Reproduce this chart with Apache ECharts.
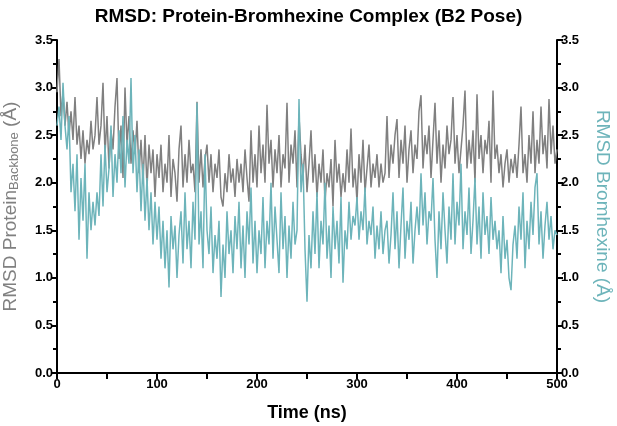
<!DOCTYPE html>
<html>
<head>
<meta charset="utf-8">
<script src="https://cdn.jsdelivr.net/npm/echarts@6/dist/echarts.min.js"></script>
<style>
  html, body { margin: 0; padding: 0; background: #fff; }
  #chart { width: 617px; height: 426px; }
</style>
</head>
<body>
<div id="chart"></div>
<script>
// time step of the sampled trajectory (ns)
const timeStep = 2;

// RMSD of protein backbone (Å), one value every 2 ns from 0 to 500
const proteinRmsd = [
  2.95, 3.3, 2.7, 2.95, 2.6, 2.85, 2.5, 2.75, 2.45, 2.9,
  2.4, 2.6, 2.25, 2.55, 2.2, 2.45, 2.3, 2.65, 2.35, 2.5,
  2.9, 2.4, 2.6, 3.05, 2.3, 2.7, 2.15, 2.55, 2.35, 2.8,
  3.1, 2.25, 2.6, 2.05, 3.0, 2.4, 2.7, 2.2, 2.55, 2.3,
  2.65, 2.1, 2.45, 2.0, 2.5, 1.95, 2.4, 2.1, 2.35, 1.85,
  2.3, 2.05, 2.4, 1.9, 2.2, 2.0, 2.5, 1.85, 2.25, 2.1,
  1.8, 2.35, 2.6, 1.95, 2.3, 2.0, 2.45, 2.1, 2.2, 1.9,
  2.85, 2.0, 2.35, 1.95, 2.25, 2.4, 2.0, 2.3, 1.9, 2.2,
  2.05, 2.35, 1.85, 1.75, 2.1, 1.9, 2.3, 2.0, 2.15, 1.85,
  2.25, 2.0, 2.2, 1.9, 2.35, 2.05, 1.8, 2.55, 2.0, 2.3,
  1.95, 2.6, 2.1, 2.4, 2.0, 2.82, 2.2, 2.45, 1.95, 2.35,
  2.1, 2.5, 1.95, 2.3, 2.15, 2.84, 2.0, 2.4, 2.2, 2.55,
  1.95, 2.7, 2.3, 2.05, 2.4, 1.9, 2.2, 2.55, 2.0, 2.3,
  1.85, 2.2, 2.0, 2.35, 1.8, 2.1, 1.95, 2.25, 1.75, 2.45,
  2.0, 2.2, 1.85, 2.1, 1.9, 2.35, 2.0, 2.57, 1.95, 2.15,
  1.8, 2.3, 2.0, 2.45, 1.9, 2.15, 2.4, 1.95, 2.2, 2.05,
  2.3, 1.95, 2.2, 2.0, 2.1, 2.7, 2.05, 2.4, 2.2, 2.5,
  2.67, 2.05, 2.45, 2.2, 2.6, 2.0, 2.35, 2.55, 2.1, 2.4,
  2.25, 2.75, 2.92, 2.15, 2.5, 2.3, 2.6, 2.05, 2.45, 2.84,
  2.2, 2.55, 2.0, 2.4, 2.15, 2.6, 2.3, 2.45, 2.9, 2.2,
  2.5, 2.1, 2.35, 2.6, 2.97, 2.15, 2.45, 2.2, 2.55, 2.0,
  2.93, 2.25, 2.5, 2.1, 2.45, 2.3, 2.65, 2.0, 2.97, 2.25,
  2.4, 2.1, 2.3, 1.95, 2.2, 2.35, 2.0, 2.25, 2.1, 2.3,
  2.05, 2.4, 2.8, 2.1, 2.3, 2.0, 2.5, 2.2, 2.75, 2.1,
  2.45, 2.2, 2.8, 2.3, 2.5, 2.15, 2.88, 2.3, 2.6, 2.2,
  2.35
];

// RMSD of bromhexine (Å), same time points
const ligandRmsd = [
  2.6, 2.8, 2.45, 3.05, 2.6, 2.35, 2.7, 1.9, 2.2, 1.7,
  2.3, 1.4, 2.05, 1.6, 2.2, 1.2, 1.9, 1.5, 1.8, 1.55,
  1.9, 1.65, 2.3, 1.75, 2.4, 1.9, 2.15, 2.6, 1.85, 2.3,
  2.0, 2.55, 2.1, 2.7, 1.95, 2.45, 2.2, 3.1, 2.1, 2.5,
  1.9, 2.35, 1.7, 2.2, 1.6, 2.05, 1.5, 1.9, 1.35, 1.8,
  1.4, 1.75, 1.2, 1.6, 1.1, 1.5, 0.9, 1.65, 1.3, 1.55,
  1.0, 1.45, 1.7, 1.15, 1.9, 1.3, 1.6, 1.1, 1.8, 1.4,
  2.84, 1.35, 1.7, 1.1, 2.3, 1.5, 1.25, 1.75, 1.05, 1.45,
  1.2, 1.6, 0.8, 1.35, 1.0, 1.7, 1.25, 1.5, 1.05, 1.65,
  1.3, 1.8, 1.1, 1.55, 1.0, 1.7, 1.35, 1.95, 1.15, 1.6,
  1.05, 1.5, 1.25, 1.85, 1.1, 1.6, 1.35, 2.0, 1.2, 1.75,
  1.4, 1.05, 1.9, 1.3, 1.65, 1.0, 1.55, 1.2, 1.8, 1.35,
  1.5, 2.88, 1.9, 2.2, 1.3, 0.75, 1.45, 1.1, 1.7, 1.25,
  1.9, 1.1, 1.6, 1.35, 2.0, 1.2, 1.55, 1.0, 1.75, 1.3,
  1.6, 1.15, 1.85, 0.95, 1.5, 1.3, 1.8, 1.4, 1.65, 1.55,
  1.85, 1.4, 1.7, 1.5, 1.95, 1.35, 1.6, 1.45, 1.75, 1.2,
  1.55, 1.3, 1.7, 1.25, 1.5, 1.6, 1.15, 1.45, 1.9, 1.3,
  1.7, 1.1, 1.55, 1.95, 1.2, 1.6, 1.4, 1.8, 1.15, 1.5,
  1.75, 1.45, 2.1, 1.55, 1.9, 1.35, 1.7, 1.6, 2.05, 1.4,
  1.0, 1.7, 1.3, 1.9, 1.5, 1.15, 1.75, 1.4, 2.1, 1.35,
  1.8, 1.55, 2.2, 1.3, 1.7, 1.45, 1.95, 1.25, 1.6, 2.05,
  1.35, 1.75, 1.2, 1.9, 1.45, 1.65, 1.25, 1.85, 1.4, 1.6,
  1.3, 1.5, 1.05, 1.65, 1.2, 1.4, 1.0, 0.87, 1.35, 1.55,
  1.2, 1.75, 1.4, 1.9, 1.1, 1.6, 1.3, 1.8, 1.45, 1.95,
  2.1, 1.35, 1.7, 1.2, 1.55, 1.8, 1.4, 1.65, 1.3, 1.5,
  1.45
];

const grayColor = '#808080';
const tealColor = '#6db4ba';
const fontFamily = '"Liberation Sans", Arial, sans-serif';

const myChart = echarts.init(document.getElementById('chart'), null, { renderer: 'canvas' });

// pair each value with its time
function toPoints(values) {
  return values.map((v, i) => [i * timeStep, v]);
}

// shared style for both y axes
function yAxisBase(position) {
  return {
    type: 'value',
    position,
    min: 0,
    max: 3.5,
    interval: 0.5,
    axisLine: { show: true, lineStyle: { color: '#000', width: 2 } },
    axisTick: { show: true, length: 6, lineStyle: { color: '#000', width: 2 } },
    minorTick: { show: true, splitNumber: 2, length: 4, lineStyle: { color: '#000', width: 2 } },
    splitLine: { show: false },
    axisLabel: {
      color: '#000',
      fontWeight: 'bold',
      fontSize: 13,
      fontFamily,
      margin: 4,
      formatter: v => v.toFixed(1)
    },
    nameLocation: 'middle',
    nameRotate: position === 'left' ? 90 : -90,
    nameGap: 36
  };
}

const option = {
  backgroundColor: '#fff',
  animation: false,
  title: {
    text: 'RMSD: Protein-Bromhexine Complex (B2 Pose)',
    left: 'center',
    top: 2,
    textStyle: { color: '#000', fontSize: 19, fontWeight: 'bold', fontFamily }
  },
  grid: { left: 57, right: 60, top: 40, bottom: 53, outerBoundsMode: 'none' },
  xAxis: {
    type: 'value',
    min: 0,
    max: 500,
    interval: 100,
    name: 'Time (ns)',
    nameLocation: 'middle',
    nameGap: 31,
    nameTextStyle: { color: '#000', fontSize: 18, fontWeight: 'bold', fontFamily },
    axisLine: { show: true, onZero: false, lineStyle: { color: '#000', width: 2 } },
    axisTick: { show: true, length: 6, lineStyle: { color: '#000', width: 2 } },
    minorTick: { show: true, splitNumber: 2, length: 6, lineStyle: { color: '#000', width: 2 } },
    splitLine: { show: false },
    axisLabel: { color: '#000', fontWeight: 'bold', fontSize: 13, fontFamily, margin: 5 }
  },
  yAxis: [
    Object.assign(yAxisBase('left'), {
      name: 'RMSD Protein{sub|Backbone} (Å)',
      nameTextStyle: {
        color: grayColor,
        fontSize: 19,
        fontFamily,
        rich: { sub: { color: grayColor, fontSize: 13, fontFamily, verticalAlign: 'bottom', padding: [7, 0, 0, 0] } }
      }
    }),
    Object.assign(yAxisBase('right'), {
      name: 'RMSD Bromhexine (Å)',
      nameTextStyle: { color: tealColor, fontSize: 19, fontFamily }
    })
  ],
  series: [
    {
      name: 'Protein backbone',
      type: 'line',
      yAxisIndex: 0,
      data: toPoints(proteinRmsd),
      symbol: 'none',
      lineStyle: { color: grayColor, width: 1.5 },
      z: 2
    },
    {
      name: 'Bromhexine',
      type: 'line',
      yAxisIndex: 1,
      data: toPoints(ligandRmsd),
      symbol: 'none',
      lineStyle: { color: tealColor, width: 1.5 },
      z: 3
    }
  ]
};

myChart.setOption(option);
</script>
</body>
</html>
